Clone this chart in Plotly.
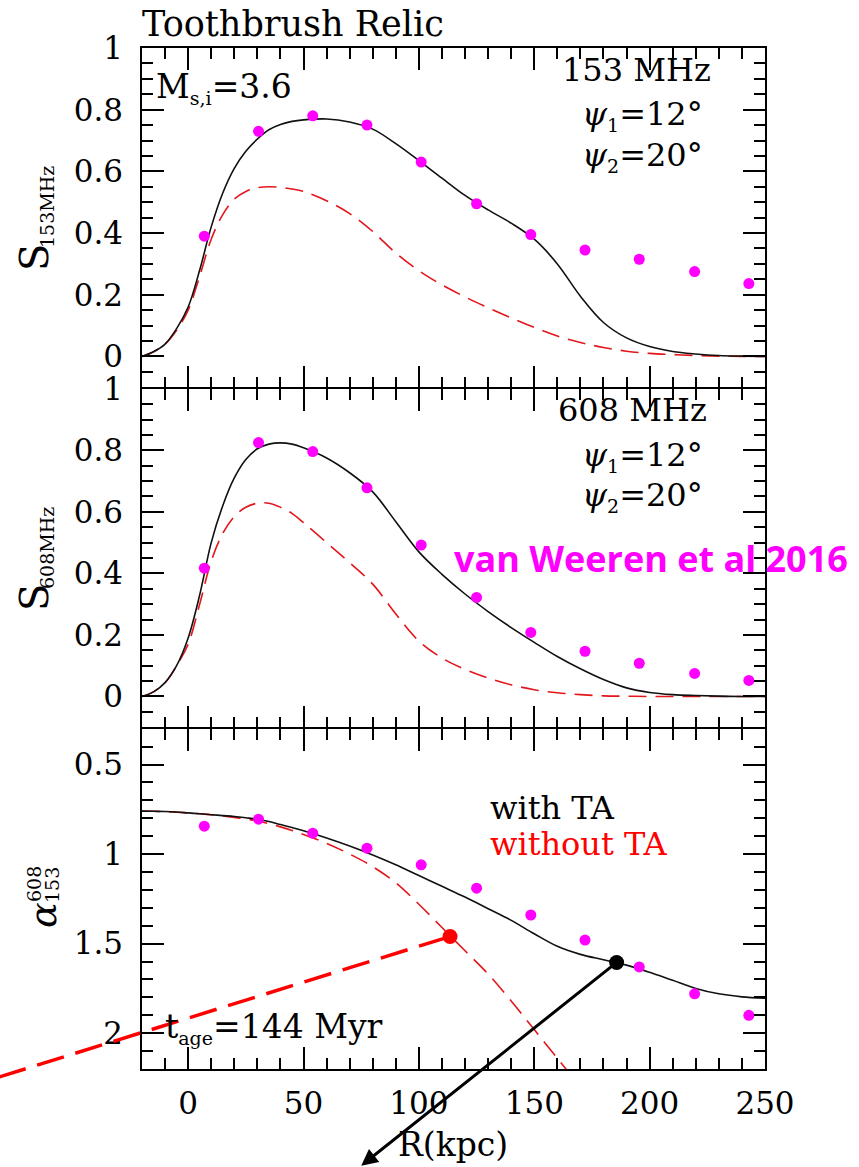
import plotly.graph_objects as go

# ---------------- observed points (van Weeren et al 2016) ----------------
r_obs = [7, 30.5, 54, 77.5, 101, 125, 148.5, 172, 195.5, 219.5, 243]
s153_obs = [0.39, 0.73, 0.78, 0.75, 0.63, 0.495, 0.395, 0.345, 0.315, 0.275, 0.236]
s608_obs = [0.417, 0.825, 0.796, 0.678, 0.492, 0.322, 0.208, 0.147, 0.108, 0.075, 0.052]
alpha_obs = [0.844, 0.805, 0.883, 0.967, 1.06, 1.19, 1.34, 1.48, 1.63, 1.78, 1.9]

# ---------------- model profiles ----------------
r_mod = [-20, -15, -10, -5, 0, 5, 10, 15, 20, 25, 30, 35, 40, 45, 50, 60, 70, 80, 90,
         100, 110, 120, 130, 140, 150, 160, 170, 180, 190, 200, 210, 220, 230, 240, 250]

s153_ta = [0.0, 0.015, 0.04, 0.09, 0.16, 0.28, 0.42, 0.53, 0.61, 0.665, 0.705, 0.735, 0.752,
           0.762, 0.767, 0.77, 0.76, 0.737, 0.69, 0.635, 0.578, 0.522, 0.475, 0.432, 0.38,
           0.30, 0.195, 0.11, 0.06, 0.032, 0.016, 0.008, 0.003, 0.001, 0.0]
s153_nota = [0.0, 0.015, 0.04, 0.085, 0.15, 0.26, 0.38, 0.46, 0.51, 0.535, 0.547, 0.55, 0.548,
             0.543, 0.535, 0.505, 0.463, 0.405, 0.335, 0.278, 0.232, 0.193, 0.158, 0.125,
             0.094, 0.066, 0.045, 0.029, 0.017, 0.01, 0.006, 0.003, 0.001, 0.0, 0.0]

s608_ta = [0.0, 0.015, 0.045, 0.1, 0.19, 0.33, 0.5, 0.62, 0.71, 0.77, 0.805, 0.82, 0.824,
           0.82, 0.808, 0.775, 0.727, 0.665, 0.568, 0.47, 0.397, 0.333, 0.276, 0.224, 0.176,
           0.13, 0.09, 0.055, 0.028, 0.013, 0.006, 0.003, 0.001, 0.0, 0.0]
s608_nota = [0.0, 0.015, 0.045, 0.1, 0.17, 0.3, 0.44, 0.53, 0.585, 0.615, 0.628, 0.628, 0.615,
             0.595, 0.565, 0.5, 0.435, 0.365, 0.268, 0.18, 0.125, 0.088, 0.06, 0.038, 0.022,
             0.012, 0.006, 0.002, 0.001, 0.0, 0.0, 0.0, 0.0, 0.0, 0.0]

alpha_ta = [0.76, 0.761, 0.762, 0.765, 0.77, 0.775, 0.78, 0.785, 0.79, 0.797, 0.805, 0.818,
            0.835, 0.852, 0.87, 0.91, 0.955, 1.005, 1.06, 1.12, 1.18, 1.24, 1.305, 1.37, 1.445,
            1.515, 1.56, 1.59, 1.62, 1.66, 1.705, 1.75, 1.78, 1.797, 1.805]
alpha_nota = [0.76, 0.761, 0.763, 0.766, 0.77, 0.775, 0.78, 0.787, 0.795, 0.804, 0.815, 0.83,
              0.848, 0.868, 0.89, 0.94, 1.0, 1.07, 1.16, 1.28, 1.41, 1.54, 1.67, 1.82, 1.98,
              2.14, 2.3, None, None, None, None, None, None, None, None]

# highlighted positions on the spectral-index profiles and where their guides lead
red_mark = (113.5, 1.46)
black_mark = (185.7, 1.605)
red_guide_end = (-82.0, 2.245)
black_guide_end = (75.0, 2.74)

x_range = [-20, 250]
s_range = [-0.1, 1.0]
a_range = [2.2, 0.3]

# ---------------- page geometry ----------------
W, H = 859, 1167
ML, MR, MT, MB = 142, 94, 48, 98
PW, PH = W - ML - MR, H - MT - MB
LW = 1.5                      # frame line width
half = 0.5 * LW / PH          # keeps the frames of stacked panels on one line
d3 = (H - MB - 728) / PH
d2 = (H - MB - 388) / PH
dom1 = [d2 + half, 1]
dom2 = [d3 + half, d2 - half]
dom3 = [0, d3 - half]


def px_x(px):
    return (px - ML) / PW


def px_y(py):
    return (H - MB - py) / PH


def a_to_paper(x, y):
    fx = (x - x_range[0]) / (x_range[1] - x_range[0])
    fy = dom3[1] * (a_range[0] - y) / (a_range[0] - a_range[1])
    return fx, fy


SERIF = "DejaVu Serif"
BLACK = "#111111"
RED = "#e3161b"
MAG = "#ff00ff"

fig = go.Figure()

panels = [("x", "y", s153_obs, s153_ta, s153_nota),
          ("x2", "y2", s608_obs, s608_ta, s608_nota),
          ("x3", "y3", alpha_obs, alpha_ta, alpha_nota)]
for xa, ya, obs, ta, nota in panels:
    fig.add_trace(go.Scatter(x=r_mod, y=nota, mode="lines", xaxis=xa, yaxis=ya,
                             line=dict(color=RED, width=1.6, dash="18px,9px", shape="spline",
                                       smoothing=1.0),
                             connectgaps=False, showlegend=False, hoverinfo="skip"))
    fig.add_trace(go.Scatter(x=r_mod, y=ta, mode="lines", xaxis=xa, yaxis=ya,
                             line=dict(color=BLACK, width=1.6, shape="spline", smoothing=1.0),
                             showlegend=False, hoverinfo="skip"))
    fig.add_trace(go.Scatter(x=r_obs, y=obs, mode="markers", xaxis=xa, yaxis=ya,
                             marker=dict(color=MAG, size=11, line=dict(width=0)),
                             showlegend=False, hoverinfo="skip"))

# guide lines leaving the lower panel
rx0, ry0 = a_to_paper(*red_guide_end)
rx1, ry1 = a_to_paper(*red_mark)
fig.add_shape(type="line", xref="paper", yref="paper", x0=rx0, y0=ry0, x1=rx1, y1=ry1,
              line=dict(color="#ff0000", width=3.5, dash="28px,12px"), layer="above")

bx_tip, by_tip = a_to_paper(*black_guide_end)
bx_tail, by_tail = a_to_paper(*black_mark)
fig.add_annotation(x=bx_tip, y=by_tip, xref="paper", yref="paper", text="",
                   showarrow=True, arrowhead=2, arrowsize=1.1, arrowwidth=3,
                   arrowcolor="black", standoff=0, startstandoff=0,
                   ax=(bx_tail - bx_tip) * PW, ay=-(by_tail - by_tip) * PH, axref="pixel",
                   ayref="pixel")

fig.add_trace(go.Scatter(x=[red_mark[0]], y=[red_mark[1]], mode="markers", xaxis="x3",
                         yaxis="y3", marker=dict(color="#ff0000", size=15),
                         showlegend=False, hoverinfo="skip"))
fig.add_trace(go.Scatter(x=[black_mark[0]], y=[black_mark[1]], mode="markers", xaxis="x3",
                         yaxis="y3", marker=dict(color="black", size=15),
                         showlegend=False, hoverinfo="skip"))

tick_common = dict(showline=True, linecolor="black", linewidth=LW, mirror="ticks",
                   ticks="inside", tickcolor="black", tickwidth=1.5, showgrid=False,
                   zeroline=False, tickfont=dict(family=SERIF, size=31, color="black"))


def xaxis(anchor, labels):
    return dict(range=x_range, domain=[0, 1], anchor=anchor, tick0=0, dtick=50, ticklen=22,
                showticklabels=labels, ticklabelstandoff=6,
                minor=dict(tick0=0, dtick=10, ticks="inside", ticklen=11, tickwidth=1.5,
                           tickcolor="black", showgrid=False),
                **tick_common)


def yaxis(anchor, dom, rng, dt, mdt):
    return dict(range=rng, domain=dom, anchor=anchor, tick0=0, dtick=dt, ticklen=22,
                ticklabelstandoff=11,
                minor=dict(tick0=0, dtick=mdt, ticks="inside", ticklen=11, tickwidth=1.5,
                           tickcolor="black", showgrid=False),
                **tick_common)


fig.update_layout(
    width=W, height=H, margin=dict(l=ML, r=MR, t=MT, b=MB),
    paper_bgcolor="white", plot_bgcolor="white",
    xaxis=xaxis("y", False), yaxis=yaxis("x", dom1, s_range, 0.2, 0.05),
    xaxis2=xaxis("y2", False), yaxis2=yaxis("x2", dom2, s_range, 0.2, 0.05),
    xaxis3=xaxis("y3", True), yaxis3=yaxis("x3", dom3, a_range, 0.5, 0.1),
)


def label(text, px, py, size=33, color="black", family=SERIF, xanchor="left", angle=0,
          yanchor="middle"):
    fig.add_annotation(x=px_x(px), y=px_y(py), xref="paper", yref="paper", text=text,
                       showarrow=False, xanchor=xanchor, yanchor=yanchor, textangle=angle,
                       font=dict(family=family, size=size, color=color))


sub = "<sub><span style='font-size:19px'>{}</span></sub>"

label("Toothbrush Relic", 140, 24, size=35)
label("M" + sub.format("s,i") + "=3.6", 154, 88)
label("153 MHz", 560, 70, size=32)
label("608 MHz", 556, 410, size=32)
for off in (0, 340):
    label("<i>ψ</i>" + sub.format("1") + "=12°", 580, 116 + off, size=32)
    label("<i>ψ</i>" + sub.format("2") + "=20°", 580, 156 + off, size=32)

label("with TA", 488, 808, size=32)
label("without TA", 488, 844, size=32, color="#ff0000")
label("t" + sub.format("age") + "=144 Myr", 163, 1028)
label("R(kpc)", 453, 1144, xanchor="center")

label("<b>van Weeren et al 2016</b>", 452, 558, size=36, color=MAG, family="Open Sans")

# y-axis titles
label("S", 34, 258, size=40, xanchor="center", angle=-90)
label("153MHz", 47, 207, size=19, xanchor="center", angle=-90)
label("S", 34, 598, size=40, xanchor="center", angle=-90)
label("608MHz", 47, 548, size=19, xanchor="center", angle=-90)
label("<i>α</i>", 43, 915, size=38, xanchor="center", angle=-90)
label("608", 34, 884, size=19, xanchor="center", angle=-90)
label("153", 52, 885, size=19, xanchor="center", angle=-90)

fig.write_html("out.html")
